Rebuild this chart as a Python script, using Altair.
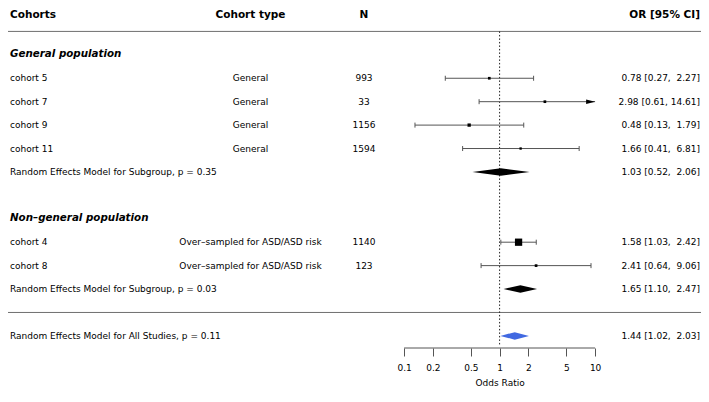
import altair as alt
import pandas as pd

# ---------------- data ----------------
cohorts = ["cohort 5", "cohort 7", "cohort 9", "cohort 11", "cohort 4", "cohort 8"]
cohort_types = ["General", "General", "General", "General",
                "Over–sampled for ASD/ASD risk", "Over–sampled for ASD/ASD risk"]
cohort_group = [0, 0, 0, 0, 1, 1]
n_sizes = [993, 33, 1156, 1594, 1140, 123]
or_est = [0.78, 2.98, 0.48, 1.66, 1.58, 2.41]
ci_low = [0.27, 0.61, 0.13, 0.41, 1.03, 0.64]
ci_high = [2.27, 14.61, 1.79, 6.81, 2.42, 9.06]
weight_pct = [8, 8, 12, 6, 58, 8]

group_names = ["General population", "Non–general population"]
summary_labels = ["Random Effects Model for Subgroup, p = 0.35",
                  "Random Effects Model for Subgroup, p = 0.03",
                  "Random Effects Model for All Studies, p = 0.11"]
summary_kind = ["sub", "sub", "all"]
summary_est = [1.03, 1.65, 1.44]
summary_low = [0.52, 1.10, 1.02]
summary_high = [2.06, 2.47, 2.03]

tick_values = [0.1, 0.2, 0.5, 1, 2, 5, 10]
headers = ["Cohorts", "Cohort type", "N", "OR [95% CI]"]
x_label = "Odds Ratio"

# ---------------- layout ----------------
W, H = 693, 340
ROW_PX = 23.42
X_ONE = 491.6        # pixel of OR = 1 inside the plot
PX_DEC = 95.5        # pixels per decade
log_lo = -X_ONE / PX_DEC
log_hi = (W - X_ONE) / PX_DEC
x_scale = alt.Scale(type="log", domain=[10 ** log_lo, 10 ** log_hi], nice=False)
y_scale = alt.Scale(domain=[0, H / ROW_PX], reverse=True, nice=False, zero=False)
A_MAX = max(tick_values)

FONT = "DejaVu Sans"
CI_COL = "#555555"
LINE_COL = "#6e6e6e"

# row order
layout = ["header", "rule"]
for g in range(2):
    layout.append(("group", g))
    for i, gg in enumerate(cohort_group):
        if gg == g:
            layout.append(("study", i))
    layout.append(("summary", g))
    if g == 0:
        layout.append("blank")
layout.append("rule")
layout.append(("summary", 2))

study_row, summary_row, group_row, rule_rows = {}, {}, {}, []
for r, item in enumerate(layout):
    if item == "rule":
        rule_rows.append(r)
    elif isinstance(item, tuple):
        kind, idx = item
        {"study": study_row, "summary": summary_row, "group": group_row}[kind][idx] = r


def fmt_ci(e, l, h):
    hs = f"{h:.2f}"
    pad = "\u00a0" * (5 - len(hs))
    return f"{e:.2f} [{l:.2f},\u00a0{pad}{hs}]"


study_df = pd.DataFrame({
    "cohort": cohorts,
    "ctype": cohort_types,
    "n": [str(v) for v in n_sizes],
    "est": or_est,
    "lo": ci_low,
    "hi": ci_high,
    "hi_plot": [min(h, A_MAX) for h in ci_high],
    "clipped": [h > A_MAX for h in ci_high],
    "w": weight_pct,
    "row": [study_row[i] for i in range(len(cohorts))],
    "ortext": [fmt_ci(e, l, h) for e, l, h in zip(or_est, ci_low, ci_high)],
})

ends = []
for _, s in study_df.iterrows():
    ends.append({"x": s["lo"], "row": s["row"]})
    if not s["clipped"]:
        ends.append({"x": s["hi"], "row": s["row"]})
ends_df = pd.DataFrame(ends)

sum_df = pd.DataFrame({
    "label": summary_labels,
    "row": [summary_row[i] for i in range(3)],
    "ortext": [fmt_ci(e, l, h) for e, l, h in zip(summary_est, summary_low, summary_high)],
})

HALF = 0.16
dia = []
for i in range(3):
    r = summary_row[i]
    for xv, hh in ((summary_low[i], 0), (summary_est[i], HALF), (summary_high[i], 0)):
        dia.append({"id": i, "kind": summary_kind[i], "x": xv, "ytop": r - hh, "ybot": r + hh})
dia_df = pd.DataFrame(dia)

group_df = pd.DataFrame({"label": group_names, "row": [group_row[g] for g in range(2)]})
rules_df = pd.DataFrame({"row": rule_rows})
ref_df = pd.DataFrame({"x": [1.0], "y0": [1.0], "y1": [14.45]})
axis_df = pd.DataFrame({"x0": [min(tick_values)], "x1": [max(tick_values)]})

x_axis = alt.Axis(values=tick_values, format="~g", domain=False, grid=False,
                  tickSize=8, tickColor=CI_COL, tickWidth=1,
                  labelFontSize=9, labelColor="black", labelFont=FONT, labelPadding=7,
                  labelFlush=False, labelOverlap=False,
                  title=x_label, titleFontSize=9, titleFontWeight="normal", titleFont=FONT,
                  titleColor="black", titlePadding=6, titleX=X_ONE, titleAlign="center")


def X(field):
    return alt.X(field, type="quantitative", scale=x_scale, axis=x_axis)


def Y(field):
    return alt.Y(field, type="quantitative", scale=y_scale, axis=None)


ci = alt.Chart(study_df).mark_rule(color=CI_COL, strokeWidth=1).encode(
    x=X("lo"), x2="hi_plot", y=Y("row"))
whisk = alt.Chart(ends_df).mark_rule(color=CI_COL, strokeWidth=1, yOffset=-2.5, y2Offset=2.5).encode(
    x=X("x"), y=Y("row"), y2="row")
squares = alt.Chart(study_df).mark_point(shape="square", filled=True, color="black", opacity=1).encode(
    x=X("est"), y=Y("row"),
    size=alt.Size("w:Q", scale=alt.Scale(domain=[0, 58], range=[0, 53]), legend=None))
arrow = alt.Chart(study_df[study_df["clipped"]]).mark_point(
    shape="M-2,-0.5L0,0L-2,0.5Z", filled=True, color="black", opacity=1, size=81).encode(
    x=X("hi_plot"), y=Y("row"))
diamonds = alt.Chart(dia_df).mark_area(opacity=1).encode(
    x=X("x"), y=Y("ytop"), y2="ybot",
    color=alt.Color("kind:N", scale=alt.Scale(domain=["sub", "all"], range=["black", "#4169E1"]), legend=None),
    detail="id:N")
hrules = alt.Chart(rules_df).mark_rule(color=LINE_COL, strokeWidth=1).encode(
    x=alt.value(0), x2=alt.value(W), y=Y("row"))
refline = alt.Chart(ref_df).mark_rule(color="#222222", strokeWidth=1, strokeDash=[1.5, 2]).encode(
    x=X("x"), y=Y("y0"), y2="y1")
axline = alt.Chart(axis_df).mark_rule(color=CI_COL, strokeWidth=1).encode(
    x=X("x0"), x2="x1", y=alt.value(H))


def txt(df, field, xpos, align, size=9, weight="normal", style="normal", dy=0):
    return alt.Chart(df).mark_text(align=align, baseline="middle", font=FONT, fontSize=size,
                                   fontWeight=weight, fontStyle=style, color="black", dy=dy).encode(
        x=alt.value(xpos), y=Y("row"), text=f"{field}:N")


head_pos = [(2, "left"), (242.5, "center"), (356, "center"), (692, "right")]
head_layers = []
for h, (xp, al) in zip(headers, head_pos):
    hdf = pd.DataFrame({"label": [h], "row": [0]})
    head_layers.append(txt(hdf, "label", xp, al, size=10.5, weight="bold", dy=7))

layers = [hrules, refline, ci, whisk, squares, arrow, diamonds, axline] + head_layers + [
    txt(group_df, "label", 2, "left", size=10.3, weight="bold", style="italic", dy=-1),
    txt(study_df, "cohort", 2, "left"),
    txt(study_df, "ctype", 242.5, "center"),
    txt(study_df, "n", 356, "center"),
    txt(study_df, "ortext", 692, "right"),
    txt(sum_df, "label", 2, "left"),
    txt(sum_df, "ortext", 692, "right"),
]

chart = alt.layer(*layers).properties(
    width=W, height=H,
    autosize=alt.AutoSizeParams(type="none"),
    padding={"left": 0, "top": 0, "right": 0, "bottom": 42},
).configure_view(stroke=None)

chart.save("out.html", embed_options={"renderer": "svg", "actions": False})
